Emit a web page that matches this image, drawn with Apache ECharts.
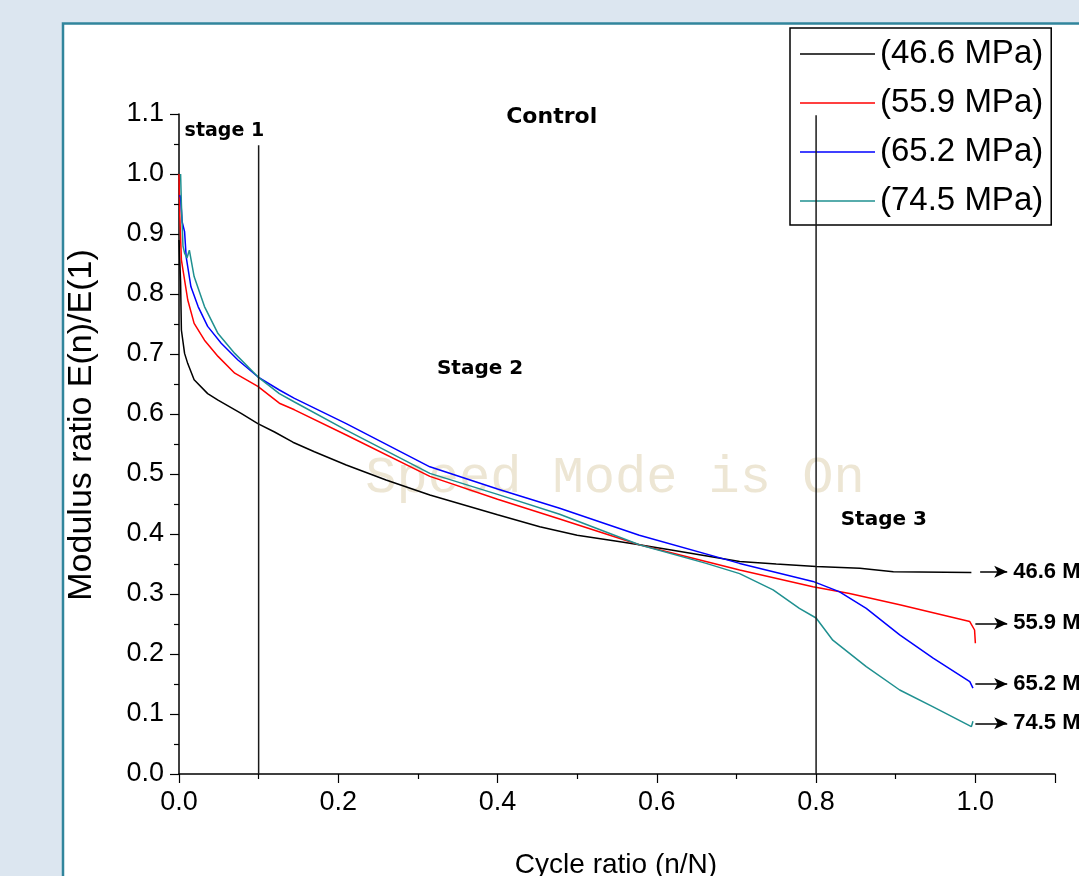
<!DOCTYPE html>
<html>
<head>
<meta charset="utf-8">
<script src="https://cdn.jsdelivr.net/npm/echarts@6/dist/echarts.min.js"></script>
<style>
html,body{margin:0;padding:0;background:#dce6f0;}
#main{width:1079px;height:876px;}
</style>
</head>
<body>
<div id="main"></div>
<script>
// ---- data ----
const seriesNames = ['(46.6 MPa)', '(55.9 MPa)', '(65.2 MPa)', '(74.5 MPa)'];
const endLabels = ['46.6 MPa', '55.9 MPa', '65.2 MPa', '74.5 MPa'];

const x466 = [0, 0.002, 0.003, 0.007, 0.011, 0.019, 0.036, 0.049, 0.078, 0.099, 0.12, 0.143, 0.17, 0.21, 0.26, 0.315, 0.40, 0.453, 0.50, 0.55, 0.578, 0.62, 0.704, 0.75, 0.80, 0.855, 0.897, 0.995];
const y466 = [0.89, 0.82, 0.74, 0.701, 0.684, 0.657, 0.634, 0.623, 0.601, 0.584, 0.57, 0.553, 0.537, 0.515, 0.49, 0.465, 0.432, 0.412, 0.398, 0.388, 0.382, 0.373, 0.354, 0.35, 0.346, 0.343, 0.337, 0.336];

const x559 = [0, 0.001, 0.003, 0.011, 0.019, 0.032, 0.049, 0.07, 0.099, 0.126, 0.145, 0.21, 0.315, 0.40, 0.478, 0.578, 0.704, 0.796, 0.842, 0.905, 0.968, 0.993, 0.999, 1.0];
const y559 = [1.0, 0.93, 0.857, 0.79, 0.751, 0.723, 0.696, 0.668, 0.646, 0.618, 0.607, 0.565, 0.496, 0.458, 0.425, 0.382, 0.34, 0.312, 0.301, 0.282, 0.262, 0.254, 0.24, 0.218];

const x652 = [0.001, 0.002, 0.004, 0.007, 0.009, 0.015, 0.024, 0.036, 0.053, 0.074, 0.099, 0.126, 0.145, 0.21, 0.315, 0.40, 0.478, 0.578, 0.704, 0.796, 0.829, 0.863, 0.905, 0.947, 0.993, 0.997];
const y652 = [0.965, 0.96, 0.92, 0.904, 0.862, 0.812, 0.779, 0.746, 0.718, 0.69, 0.662, 0.64, 0.626, 0.584, 0.512, 0.475, 0.443, 0.398, 0.351, 0.321, 0.304, 0.276, 0.232, 0.193, 0.154, 0.143];

const x745 = [0.002, 0.003, 0.005, 0.007, 0.010, 0.013, 0.019, 0.032, 0.049, 0.07, 0.099, 0.126, 0.145, 0.21, 0.315, 0.40, 0.478, 0.578, 0.662, 0.704, 0.746, 0.779, 0.80, 0.821, 0.863, 0.905, 0.947, 0.995, 0.997];
const y745 = [1.0, 0.95, 0.88, 0.868, 0.86, 0.873, 0.829, 0.779, 0.734, 0.701, 0.662, 0.634, 0.62, 0.573, 0.501, 0.466, 0.433, 0.382, 0.351, 0.334, 0.307, 0.276, 0.26, 0.223, 0.179, 0.14, 0.112, 0.079, 0.088];

// end-of-curve arrow annotations: start x, end x, y
const arrowStartX = [1.006, 1.0, 1.0, 1.0];
const arrowEndX = [1.04, 1.04, 1.04, 1.04];
const arrowY = [0.337, 0.251, 0.150, 0.0845];

// stage boundary lines: x, top y
const stageLineX = [0.1, 0.8];
const stageLineTop = [1.048, 1.098];

// text annotations in data coordinates
const notes = [
  {text: 'stage 1', x: 0.007, y: 1.072, align: 'left', size: 19},
  {text: 'Control', x: 0.468, y: 1.095, align: 'center', size: 22},
  {text: 'Stage 2', x: 0.378, y: 0.675, align: 'center', size: 20},
  {text: 'Stage 3', x: 0.885, y: 0.423, align: 'center', size: 20}
];

const colors = ['#000000', '#ff0000', '#0000ff', '#1f9090'];
const xs = [x466, x559, x652, x745];
const ys = [y466, y559, y652, y745];

const zip = (a, b) => a.map((v, i) => [v, b[i]]);

const chart = echarts.init(document.getElementById('main'), null, {renderer: 'canvas'});

const series = [];
seriesNames.forEach((n, i) => {
  series.push({
    name: n, type: 'line', data: zip(xs[i], ys[i]),
    symbol: 'none', showSymbol: false, smooth: false,
    lineStyle: {color: colors[i], width: 1.5}, itemStyle: {color: colors[i]},
    z: 3, animation: false, clip: false
  });
});
// stage boundary lines (drawn above the legend box, as in the reference)
stageLineX.forEach((x, i) => {
  series.push({
    name: 'stageLine' + i, type: 'line', data: [[x, 0], [x, stageLineTop[i]]],
    symbol: 'none', lineStyle: {color: '#1a1a1a', width: 1.5}, z: 8, animation: false
  });
});
// arrows with labels
series.push({
  name: 'arrows', type: 'line', data: [], symbol: 'none', animation: false, clip: false,
  markLine: {
    silent: true, animation: false,
    symbol: ['none', 'arrow'], symbolSize: [9, 13],
    lineStyle: {color: '#000', width: 1.5, type: 'solid'},
    label: {show: true, position: 'end', distance: 6, color: '#000',
      fontFamily: 'Liberation Sans', fontWeight: 'bold', fontSize: 22},
    data: arrowY.map((y, i) => [
      {coord: [arrowStartX[i], y], symbol: 'none'},
      {coord: [arrowEndX[i], y], symbol: 'arrow', label: {formatter: endLabels[i]}}
    ])
  }
});

const baseGraphic = [
  {type: 'rect', z: -10, shape: {x: 63, y: 23.5, width: 1100, height: 1000},
    style: {fill: '#ffffff', stroke: '#31859c', lineWidth: 2.5}},
  {type: 'text', z: -5, x: 615, y: 478,
    style: {text: 'Speed Mode is On', fill: '#ede6d4', font: '52px "Liberation Mono"',
      textAlign: 'center', textVerticalAlign: 'middle'}},
  {type: 'text', z: 5, x: 82, y: 425, rotation: Math.PI / 2,
    style: {text: 'Modulus ratio E(n)/E(1)', fill: '#000', font: '34px "Liberation Sans"',
      textAlign: 'center', textVerticalAlign: 'middle'}},
  {type: 'text', z: 5, x: 616, y: 865,
    style: {text: 'Cycle ratio (n/N)', fill: '#000', font: '28px "Liberation Sans"',
      textAlign: 'center', textVerticalAlign: 'middle'}}
];

const option = {
  backgroundColor: '#dce6f0',
  animation: false,
  grid: {left: 179, top: 114, width: 876, height: 660, containLabel: false},
  graphic: baseGraphic,
  legend: {
    data: seriesNames.map(n => ({name: n, icon: 'rect'})),
    orient: 'vertical', left: 790, top: 28, z: 4,
    backgroundColor: '#fff', borderColor: '#000', borderWidth: 1.5,
    padding: [8, 8, 6, 10], itemWidth: 75, itemHeight: 1.6, itemGap: 13,
    textStyle: {fontFamily: 'Liberation Sans', fontSize: 33, color: '#000', lineHeight: 36},
    selectedMode: false
  },
  xAxis: {
    type: 'value', min: 0, max: 1.1, interval: 0.2,
    axisLine: {show: true, onZero: false, lineStyle: {color: '#000', width: 1.5}},
    axisTick: {show: true, inside: false, length: 9, lineStyle: {color: '#000', width: 1.2}},
    minorTick: {show: true, splitNumber: 2, length: 5, lineStyle: {color: '#000', width: 1.2}},
    splitLine: {show: false}, minorSplitLine: {show: false},
    axisLabel: {show: true, margin: 15, color: '#000', fontFamily: 'Liberation Sans', fontSize: 27,
      showMaxLabel: false, formatter: v => v.toFixed(1)}
  },
  yAxis: {
    type: 'value', min: 0, max: 1.1, interval: 0.1,
    axisLine: {show: true, onZero: false, lineStyle: {color: '#000', width: 1.5}},
    axisTick: {show: true, inside: false, length: 9, lineStyle: {color: '#000', width: 1.2}},
    minorTick: {show: true, splitNumber: 2, length: 5, lineStyle: {color: '#000', width: 1.2}},
    splitLine: {show: false}, minorSplitLine: {show: false},
    axisLabel: {show: true, margin: 15, color: '#000', fontFamily: 'Liberation Sans', fontSize: 27,
      formatter: v => v.toFixed(1)}
  },
  series: series
};
chart.setOption(option);

// place stage / control notes from their data coordinates
const noteGraphic = notes.map(n => {
  const p = chart.convertToPixel({gridIndex: 0}, [n.x, n.y]);
  return {type: 'text', z: 6, x: p[0], y: p[1],
    style: {text: n.text, fill: '#000', font: 'bold ' + n.size + 'px "DejaVu Sans"',
      textAlign: n.align, textVerticalAlign: 'middle'}};
});
chart.setOption({graphic: baseGraphic.concat(noteGraphic)});
</script>
</body>
</html>
